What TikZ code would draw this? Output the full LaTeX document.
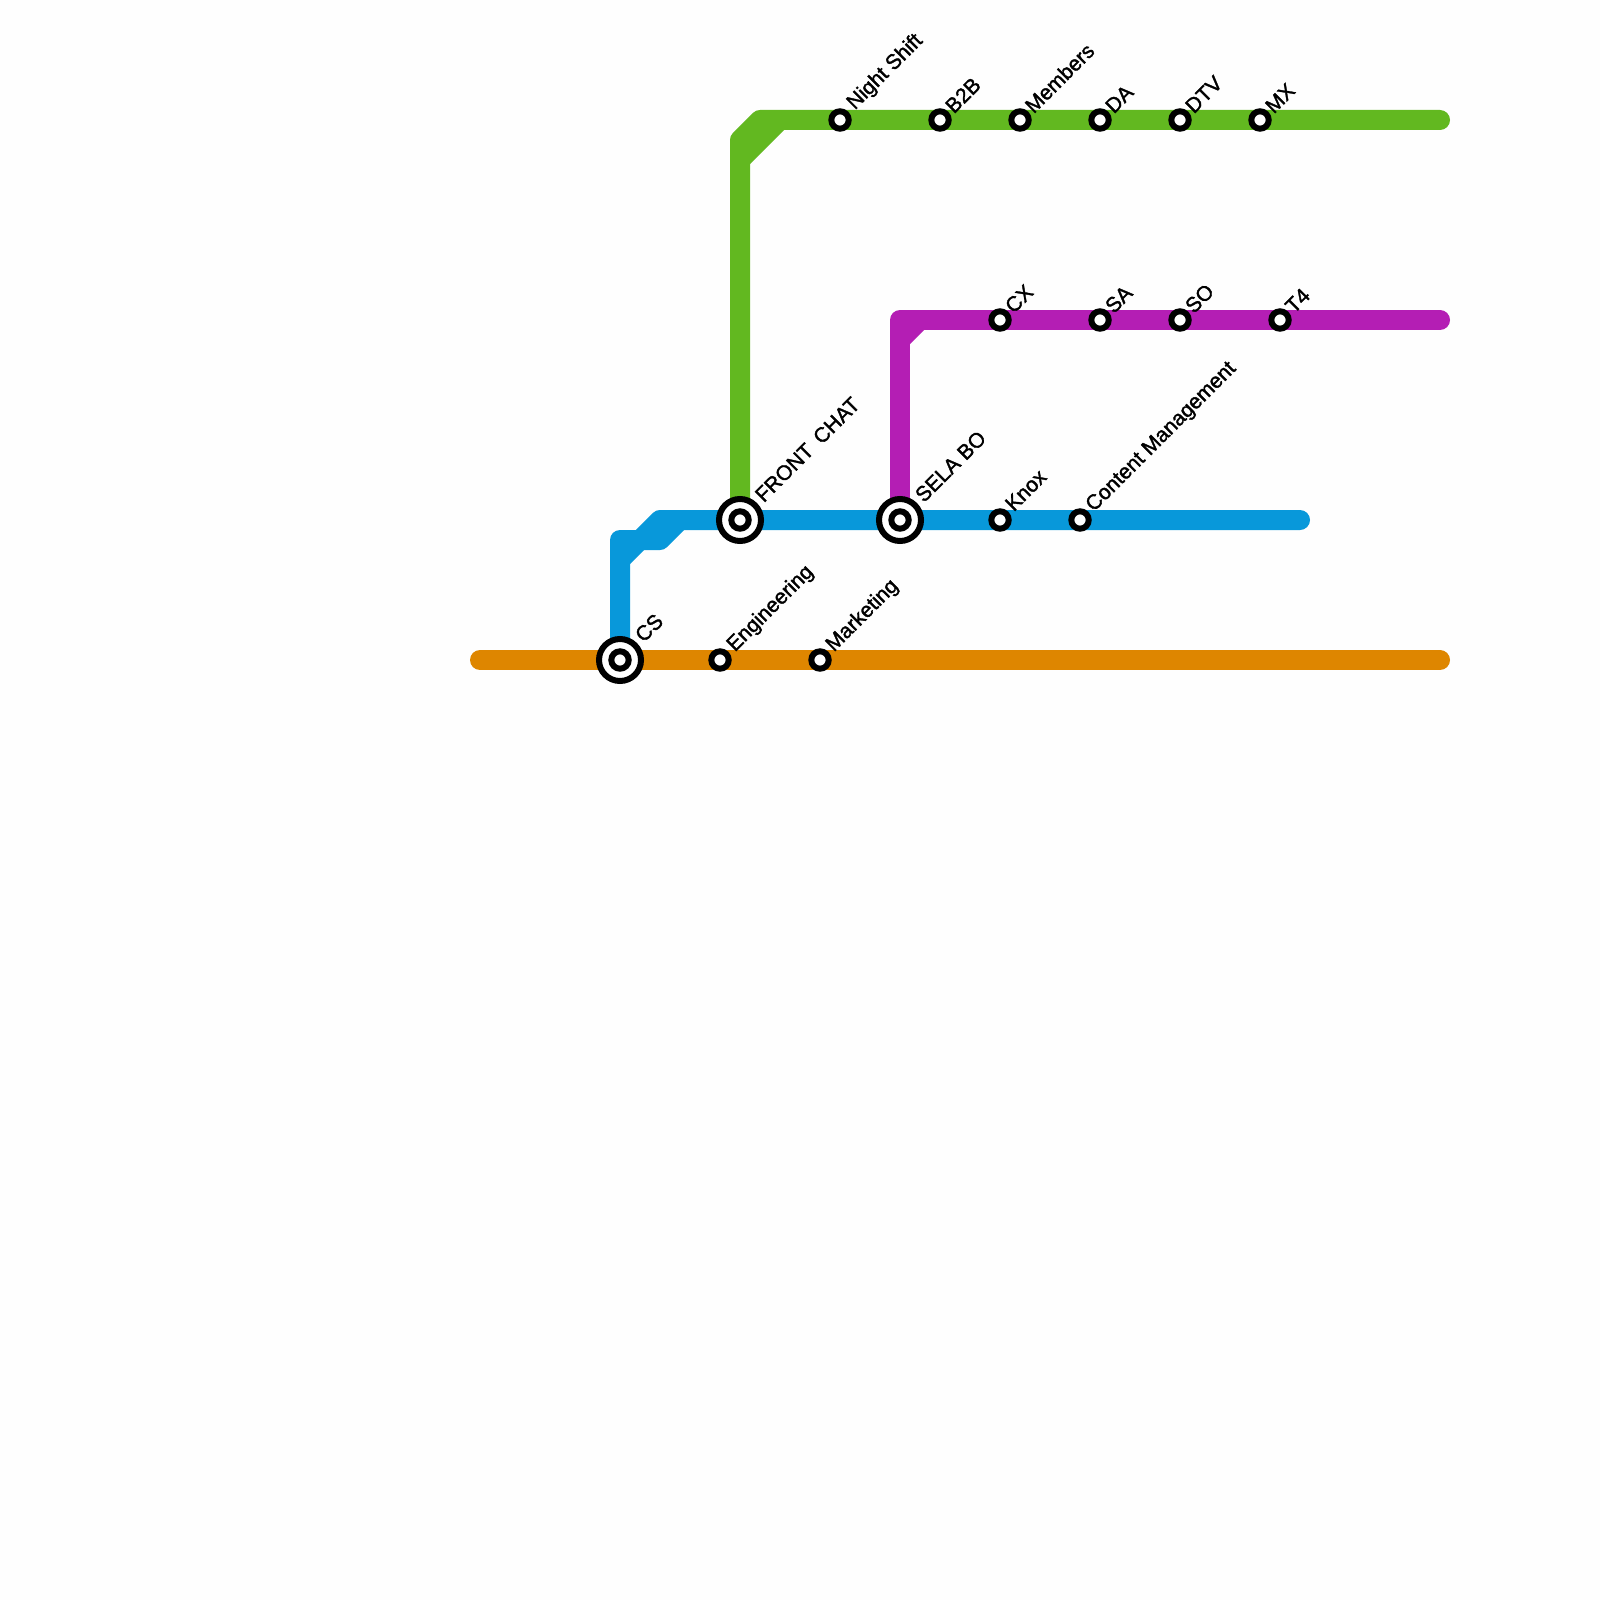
\documentclass[tikz,border=0pt]{standalone}
\usepackage{fontspec}
\setmainfont{Liberation Sans}[FakeBold=1.6]
\definecolor{bg}{RGB}{254,254,254}
\definecolor{lorange}{RGB}{222,134,0}
\definecolor{lblue}{RGB}{8,152,218}
\definecolor{lgreen}{RGB}{98,184,32}
\definecolor{lpurple}{RGB}{180,30,180}
\tikzset{
  metro/.style={line width=10pt,line join=round,line cap=round},
  joint/.style={line width=10pt,line join=round,line cap=butt},
  lab/.style={rotate=45,anchor=south west,inner sep=0pt,font=\fontsize{10.5pt}{12pt}\selectfont},
  stn/.style={circle,draw=black,fill=white,line width=3pt,minimum size=8.7pt,inner sep=0pt},
  hubouter/.style={circle,draw=black,fill=white,line width=3pt,minimum size=21pt,inner sep=0pt},
  hubinner/.style={stn}
}
\begin{document}
\begin{tikzpicture}[x=0.5pt,y=-0.5pt]
\useasboundingbox (0,0) rectangle (1600,1600);
\fill[bg] (0,0) rectangle (1600,1600);
% free line ends
\coordinate (oa) at (480,660); \coordinate (ob) at (1440,660);
\coordinate (ba) at (620,660); \coordinate (bb) at (620,540); \coordinate (bc) at (660,540);
\coordinate (bd) at (620,560); \coordinate (be) at (660,520); \coordinate (bf) at (1300,520);
\coordinate (bg1) at (680,520);
\coordinate (ga) at (740,520); \coordinate (gb) at (740,140); \coordinate (gc) at (760,120);
\coordinate (gd) at (1440,120); \coordinate (ge) at (740,160); \coordinate (gf) at (780,120);
\coordinate (pa) at (900,520); \coordinate (pb) at (900,320); \coordinate (pc) at (1440,320);
\coordinate (pd) at (900,340); \coordinate (pe) at (920,320);
% lines
\draw[metro,lorange] (oa) -- (ob);
\draw[metro,lblue] (ba) -- (bb) -- (bc) -- (bg1);
\draw[metro,lblue] (bd) -- (be) -- (bf);
\draw[joint,lgreen] (ge) -- (gf);
\draw[metro,lgreen] (ga) -- (gb) -- (gc) -- (gd);
\draw[joint,lpurple] (pd) -- (pe);
\draw[metro,lpurple] (pa) -- (pb) -- (pc);
% hubs
\foreach \n/\x/\y/\t in {cs/620/660/CS,front/740/520/FRONT\ \kern-1pt\ CHAT,sela/900/520/SELA BO}{
  \node[hubouter] (\n) at (\x,\y) {};
  \node[hubinner] (\n i) at (\x,\y) {};
  \node[lab] (\n l) at (\x+24,\y-16) {\t};
}
% stations: label offset dx dy
\foreach \n/\x/\y/\dx/\dy/\t in {eng/720/660/18/-4/Engineering,mkt/820/660/17/-4/Marketing,
  night/840/120/18/-6/Night Shift,btb/940/120/14/-5/B2B,mem/1020/120/14/-5/Members,da/1100/120/14/-5/DA,dtv/1180/120/14/-5/DTV,mx/1260/120/14/-5/MX,
  cx/1000/320/14/-5/CX,sa/1100/320/14/-5/SA,so/1180/320/14/-5/SO,tf/1280/320/14/-5/T4,
  knox/1000/520/14/-7/Knox,cm/1080/520/17/-4/Content Management}{
  \node[stn] (\n) at (\x,\y) {};
  \node[lab] (\n l) at (\x+\dx,\y+\dy) {\t};
}
\end{tikzpicture}
\end{document}
